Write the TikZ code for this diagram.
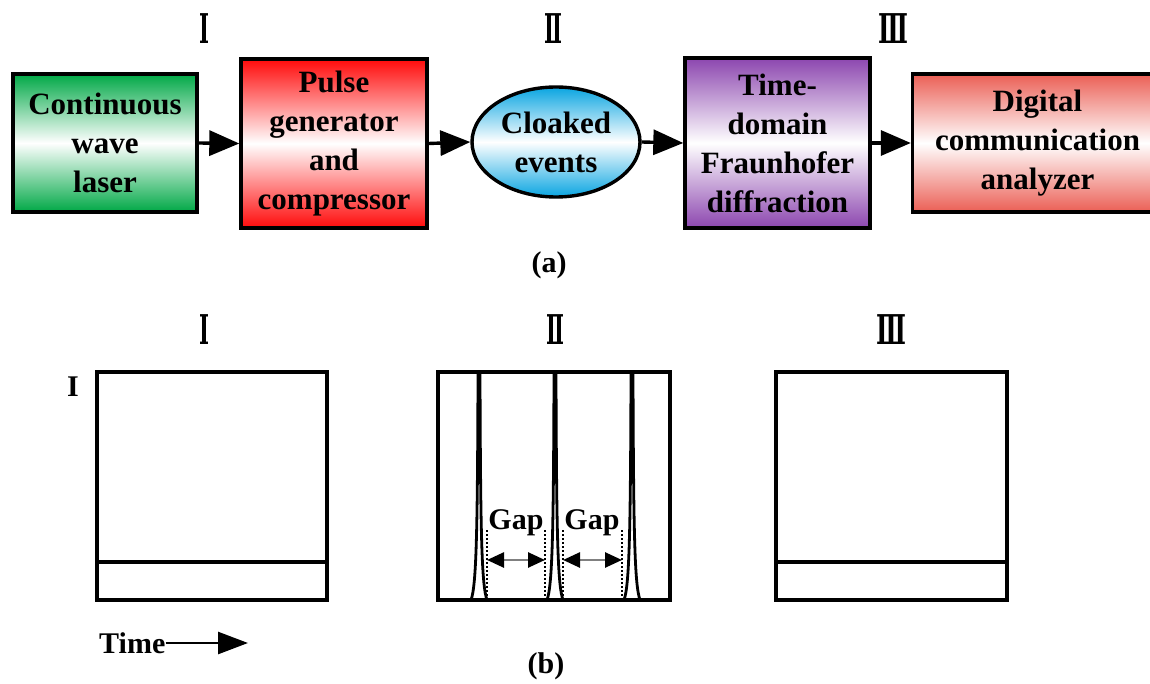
\documentclass[tikz,border=0pt]{standalone}
\usepackage{fontspec}
\setmainfont{Liberation Serif}
\newfontfamily\romfont{DejaVu Serif}
\usetikzlibrary{arrows.meta,shapes.geometric,calc}
\definecolor{cwgreen}{RGB}{0,168,70}
\definecolor{pgred}{RGB}{255,10,10}
\definecolor{ceblue}{RGB}{10,165,225}
\definecolor{tdpurple}{RGB}{140,70,175}
\definecolor{dcsalmon}{RGB}{235,95,85}
\begin{document}
\begin{tikzpicture}[x=1pt,y=-1pt,
  blk/.style={draw=black, line width=3.4pt, inner sep=0pt, align=center,
    font=\bfseries\fontsize{31}{39}\selectfont},
  flow/.style={line width=3.4pt, -{Triangle[length=30pt,width=25pt]}},
  panel/.style={draw=black, line width=3.2pt},
  roman/.style={font=\romfont\bfseries\fontsize{41}{41}\selectfont, inner sep=0pt},
  lbl/.style={font=\bfseries\fontsize{30}{30}\selectfont, inner sep=0pt},
  peak/.style={line width=2.8pt},
  guide/.style={line width=1.8pt, dash pattern=on 2pt off 2pt},
  gaparrow/.style={draw=gray, line width=2.6pt, {Triangle[length=17pt,width=15pt,fill=black,color=black]}-{Triangle[length=17pt,width=15pt,fill=black,color=black]}}
]
\clip (0,0) rectangle (1150,684);
\fill[white] (0,0) rectangle (1150,684);

% ---------- (a) ----------
\node[roman] (r1) at (204,28.5) {\scalebox{0.52}[1]{Ⅰ}};
\node[roman] (r2) at (553,28.5) {\scalebox{0.52}[1]{Ⅱ}};
\node[roman] (r3) at (893,28.5) {\scalebox{0.6}[1]{Ⅲ}};

\node[blk, minimum width=184pt, minimum height=138pt,
  top color=cwgreen, bottom color=cwgreen, middle color=white] (cw) at (105,143)
  {Continuous\\wave\\laser};
\node[blk, minimum width=186pt, minimum height=169pt,
  top color=pgred, bottom color=pgred, middle color=white] (pg) at (334,143.5)
  {Pulse\\generator\\and\\compressor};
\node[blk, ellipse, minimum width=168pt, minimum height=110pt,
  top color=ceblue, bottom color=ceblue, middle color=white] (ce) at (556,142)
  {Cloaked\\events};
\node[blk, minimum width=185pt, minimum height=170pt,
  top color=tdpurple, bottom color=tdpurple, middle color=white] (td) at (777.5,143)
  {Time-\\domain\\Fraunhofer\\diffraction};
\node[blk, minimum width=250pt, minimum height=138pt,
  top color=dcsalmon, bottom color=dcsalmon, middle color=white] (dc) at (1037.5,143)
  {Digital\\communication\\analyzer};

\draw[flow] (cw.east) -- (pg.west);
\draw[flow] (pg.east) -- (ce.west);
\draw[flow] (ce.east) -- (td.west);
\draw[flow] (td.east) -- (dc.west);

\node[lbl] (capa) at (549,265) {(a)};

% ---------- (b) ----------
\node[roman] (s1) at (204,330) {\scalebox{0.52}[1]{Ⅰ}};
\node[roman] (s2) at (555,330) {\scalebox{0.52}[1]{Ⅱ}};
\node[roman] (s3) at (891,330) {\scalebox{0.6}[1]{Ⅲ}};

\node[lbl] (ilabel) at (73,387) {I};

% panel I
\draw[panel] (97,372) rectangle (327,600);
\draw[panel] (97,562) -- (327,562);
% panel III
\draw[panel] (776,372) rectangle (1007,600);
\draw[panel] (776,562) -- (1007,562);
% panel II
\draw[panel] (438,372) rectangle (670,600);
\foreach \p in {479,555,632}{
  \draw[peak] (\p-8,600) .. controls (\p-2.5,585) and (\p-1.5,530) .. (\p-1,373);
  \draw[peak] (\p+8,600) .. controls (\p+2.5,585) and (\p+1.5,530) .. (\p+1,373);
}
\coordinate (g1a) at (487,560);
\coordinate (g1b) at (545,560);
\coordinate (g2a) at (563,560);
\coordinate (g2b) at (622,560);
\foreach \c in {g1a,g1b,g2a,g2b}{
  \draw[guide] ($(\c)+(0,-30)$) -- ($(\c)+(0,40)$);
}
\draw[gaparrow] (g1a) -- (g1b);
\draw[gaparrow] (g2a) -- (g2b);
\node[lbl] (gap1) at (516,523) {Gap};
\node[lbl] (gap2) at (592,523) {Gap};

% time axis
\node[lbl, anchor=west] (time) at (99,643) {Time};
\coordinate (tend) at (248,643);
\draw[line width=2.6pt, -{Triangle[length=30pt,width=22pt]}] (time.east) -- (tend);

\node[lbl] (capb) at (546,666) {(b)};
\end{tikzpicture}
\end{document}
